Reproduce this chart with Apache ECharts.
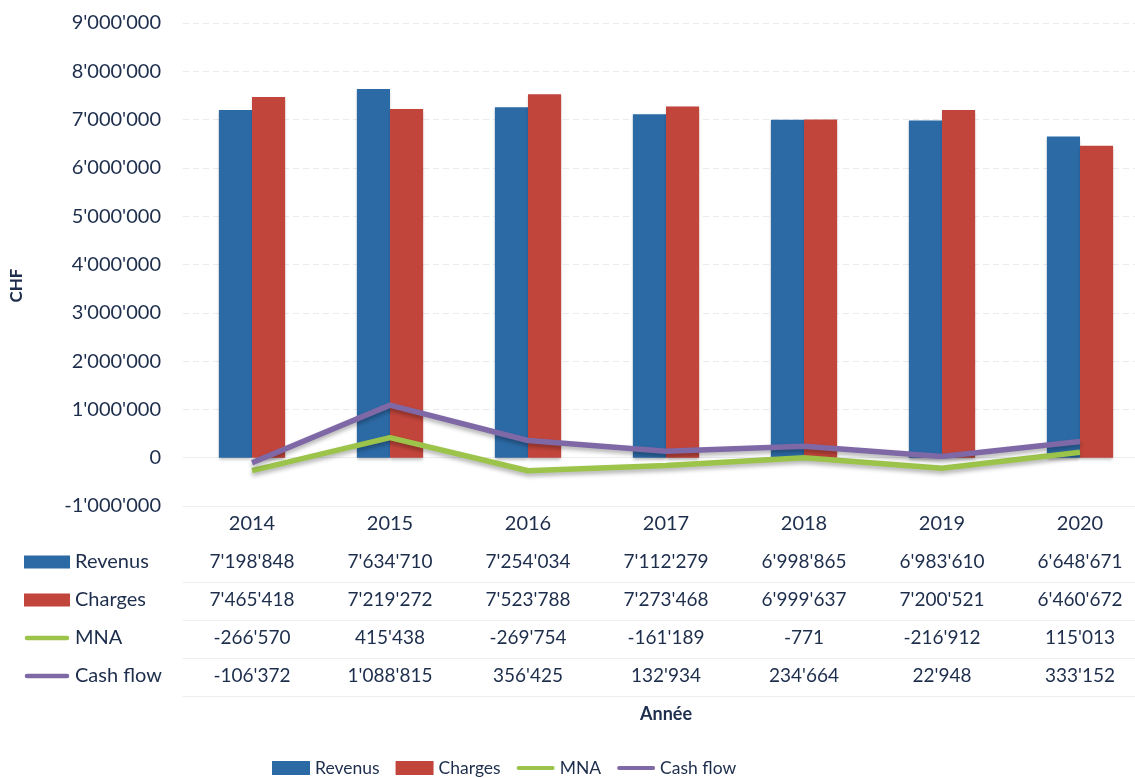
<!DOCTYPE html>
<html>
<head>
<meta charset="utf-8">
<script src="https://cdn.jsdelivr.net/npm/echarts@6/dist/echarts.min.js"></script>
<style>
  html, body { margin: 0; padding: 0; background: #fff; overflow: hidden; }
  #chart { width: 1149px; height: 778px; }
</style>
</head>
<body>
<div id="chart"></div>
<script>
// années
const years = ["2014", "2015", "2016", "2017", "2018", "2019", "2020"];
// séries (CHF)
const revenus = [7198848, 7634710, 7254034, 7112279, 6998865, 6983610, 6648671];
const charges = [7465418, 7219272, 7523788, 7273468, 6999637, 7200521, 6460672];
const mna = [-266570, 415438, -269754, -161189, -771, -216912, 115013];
const cashFlow = [-106372, 1088815, 356425, 132934, 234664, 22948, 333152];
const seriesNames = ["Revenus", "Charges", "MNA", "Cash flow"];

const textColor = "#1d2d4c";
const font = "Lato";
const colors = ["#2c6aa6", "#c2453b", "#9cc44a", "#7e68a6"];
const faint = "#eceef2";

/** 1234567 -> 1'234'567 */
const fmt = (v) => String(v).replace(/\B(?=(\d{3})+(?!\d))/g, "'");

// icône de ligne arrondie pour la légende (boîte invisible 0..14 en hauteur)
const lineIcon =
  "path://M0,0L0,0M2.5,4.5L45.5,4.5A2.5,2.5,0,0,1,45.5,9.5L2.5,9.5A2.5,2.5,0,0,1,2.5,4.5ZM0,14L0,14M48,0L48,0";

const legendData = [
  { name: "Revenus", icon: "rect" },
  { name: "Charges", icon: "rect" },
  { name: "MNA", icon: lineIcon },
  { name: "Cash flow", icon: lineIcon },
];

const tableRows = [revenus, charges, mna, cashFlow];

// axes du tableau de données (une ligne par série)
const tableAxes = tableRows.map((row, i) => ({
  type: "category",
  gridIndex: 0,
  position: "bottom",
  offset: 38 * (i + 1),
  data: row.map(fmt),
  axisLine: { show: true, lineStyle: { color: faint, width: 1 } },
  axisTick: { show: false },
  axisLabel: { margin: 8, fontSize: 19, color: textColor, fontFamily: font },
}));

const chart = echarts.init(document.getElementById("chart"));

const option = {
  animation: false,
  color: colors,
  textStyle: { fontFamily: font, color: textColor },
  grid: { left: 183, top: 23, right: 0, bottom: 272, containLabel: false },
  legend: [
    {
      data: legendData,
      left: 272,
      top: 759,
      padding: 0,
      itemWidth: 38,
      itemHeight: 14,
      itemGap: 16,
      textStyle: { fontSize: 17.5, color: textColor, fontFamily: font },
    },
    {
      data: legendData,
      orient: "vertical",
      left: 24,
      top: 550,
      padding: 0,
      itemWidth: 46,
      itemHeight: 13,
      itemGap: 14,
      selectedMode: false,
      textStyle: { fontSize: 20, lineHeight: 24, color: textColor, fontFamily: font },
    },
  ],
  xAxis: [
    {
      type: "category",
      data: years,
      name: "Année",
      nameLocation: "middle",
      nameGap: 199,
      nameTextStyle: { fontSize: 18, fontWeight: "bold", color: textColor },
      axisLine: { show: true, onZero: false, lineStyle: { color: faint } },
      axisTick: { show: false },
      axisLabel: { margin: 8, fontSize: 20, color: textColor },
    },
    ...tableAxes,
    {
      type: "category",
      position: "bottom",
      offset: 38 * 5,
      data: years,
      axisLine: { show: true, lineStyle: { color: faint } },
      axisTick: { show: false },
      axisLabel: { show: false },
    },
  ],
  yAxis: {
    type: "value",
    min: -1000000,
    max: 9000000,
    interval: 1000000,
    name: "CHF",
    nameLocation: "middle",
    nameRotate: 90,
    nameGap: 158,
    nameTextStyle: { fontSize: 17, fontWeight: "bold", color: textColor, padding: [0, 42, 0, 0] },
    axisLine: { show: false },
    axisTick: { show: false },
    axisLabel: { formatter: fmt, fontSize: 20, margin: 22, color: textColor },
    splitLine: { lineStyle: { color: "#e9ebef", type: [6, 4] } },
  },
  series: [
    {
      name: "Revenus",
      type: "bar",
      data: revenus,
      barGap: "0%",
      barCategoryGap: "52%",
      itemStyle: { color: colors[0], shadowColor: "rgba(0,0,0,0.25)", shadowBlur: 3, shadowOffsetY: 2 },
    },
    {
      name: "Charges",
      type: "bar",
      data: charges,
      itemStyle: { color: colors[1], shadowColor: "rgba(0,0,0,0.25)", shadowBlur: 3, shadowOffsetY: 2 },
    },
    {
      name: "MNA",
      type: "line",
      data: mna,
      symbol: "none",
      lineStyle: { width: 5.5, color: colors[2], shadowColor: "rgba(0,0,0,0.3)", shadowBlur: 4, shadowOffsetY: 3 },
      itemStyle: { color: colors[2] },
      z: 5,
    },
    {
      name: "Cash flow",
      type: "line",
      data: cashFlow,
      symbol: "none",
      lineStyle: { width: 5.5, color: colors[3], shadowColor: "rgba(0,0,0,0.3)", shadowBlur: 4, shadowOffsetY: 3 },
      itemStyle: { color: colors[3] },
      z: 5,
    },
  ],
};

chart.setOption(option);
window.addEventListener("resize", () => chart.resize());
</script>
</body>
</html>
